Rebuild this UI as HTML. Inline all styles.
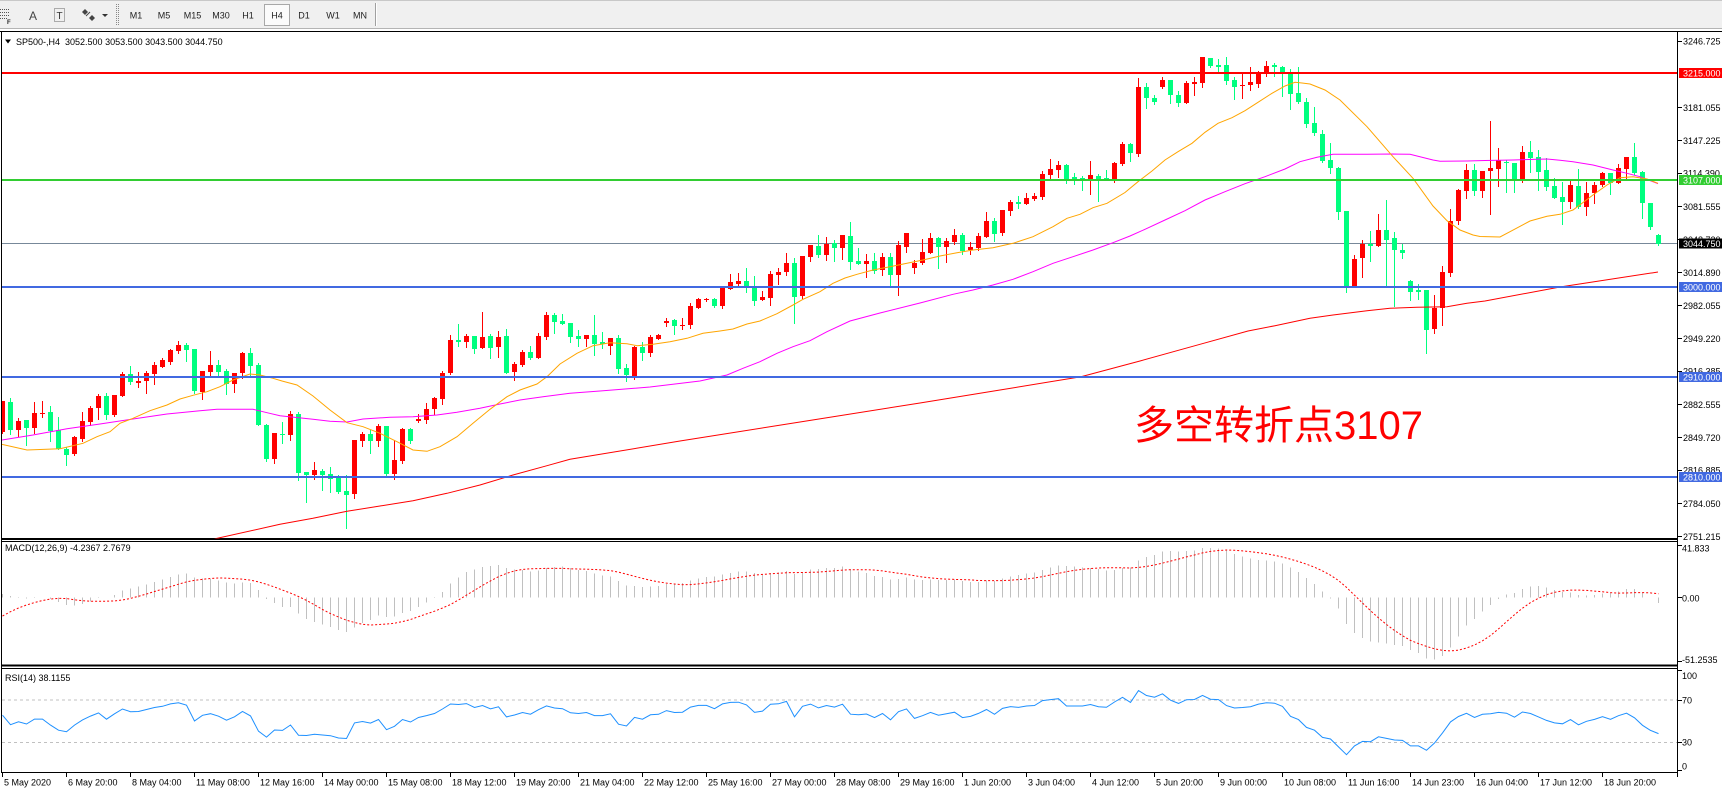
<!DOCTYPE html>
<html><head><meta charset="utf-8"><style>
html,body{margin:0;padding:0;background:#fff;}
svg{display:block;}
text{font-family:"Liberation Sans",sans-serif;font-size:9px;fill:#000;}
.tb text{font-size:9px;fill:#222;}
.w{fill:#fff;}
</style></head><body>
<svg width="1722" height="793" viewBox="0 0 1722 793" xmlns="http://www.w3.org/2000/svg">
<defs>
<clipPath id="cm"><rect x="2" y="32" width="1675.5" height="506.5"/></clipPath>
<clipPath id="cmd"><rect x="2" y="542" width="1675.5" height="122.5"/></clipPath>
<clipPath id="cr"><rect x="2" y="669" width="1675.5" height="103"/></clipPath>
</defs>
<rect x="0" y="0" width="1722" height="793" fill="#fff"/>
<!-- toolbar -->
<g class="tb">
<rect x="0" y="0" width="1722" height="28" fill="#f0f0f0"/>
<line x1="0" y1="0.5" x2="1722" y2="0.5" stroke="#c8c8c8"/>
<line x1="0" y1="28.5" x2="1722" y2="28.5" stroke="#b4b4b4"/>
<g stroke="#555" stroke-dasharray="1 1">
<line x1="0" y1="9.5" x2="10" y2="9.5"/><line x1="0" y1="12.5" x2="10" y2="12.5"/><line x1="0" y1="15.5" x2="10" y2="15.5"/><line x1="0" y1="18.5" x2="7" y2="18.5"/>
</g>
<text x="7" y="24" style="font-size:6px;font-weight:bold">F</text>
<text x="33" y="20" text-anchor="middle" style="font-size:12px;fill:#444">A</text>
<rect x="54.5" y="8.5" width="10" height="13" fill="none" stroke="#666" stroke-dasharray="1 1"/>
<text x="59.5" y="19" text-anchor="middle" style="font-size:10px;fill:#333">T</text>
<polygon points="85,9 88,12 85,15 82,12" fill="#444"/>
<polygon points="92,15 95,18 92,21 89,18" fill="#444"/>
<line x1="86" y1="16" x2="90" y2="12" stroke="#444"/>
<polygon points="102,14 108,14 105,17" fill="#333"/>
<line x1="116.5" y1="4" x2="116.5" y2="25" stroke="#888" stroke-dasharray="1 1"/>
<line x1="118.5" y1="4" x2="118.5" y2="25" stroke="#888" stroke-dasharray="1 1"/>
<rect x="264.5" y="4.5" width="25" height="21" fill="#fbfbfb" stroke="#a8a8a8"/>
<text x="136" y="18.7" text-anchor="middle">M1</text>
<text x="164" y="18.7" text-anchor="middle">M5</text>
<text x="192.5" y="18.7" text-anchor="middle">M15</text>
<text x="221" y="18.7" text-anchor="middle">M30</text>
<text x="248" y="18.7" text-anchor="middle">H1</text>
<text x="277" y="18.7" text-anchor="middle">H4</text>
<text x="304" y="18.7" text-anchor="middle">D1</text>
<text x="333" y="18.7" text-anchor="middle">W1</text>
<text x="360" y="18.7" text-anchor="middle">MN</text>
<line x1="375.5" y1="3" x2="375.5" y2="26" stroke="#a0a0a0"/>
<line x1="376.5" y1="3" x2="376.5" y2="26" stroke="#fff"/>
</g>

<!-- frame -->
<line x1="0" y1="31.5" x2="1722" y2="31.5" stroke="#000"/>
<line x1="1.5" y1="31.5" x2="1.5" y2="773" stroke="#000"/>
<line x1="1677.5" y1="31.5" x2="1677.5" y2="777" stroke="#000"/>
<line x1="1.5" y1="539" x2="1677.5" y2="539" stroke="#000" stroke-width="2"/>
<line x1="1.5" y1="541.5" x2="1677.5" y2="541.5" stroke="#000"/>
<line x1="1.5" y1="665.5" x2="1677.5" y2="665.5" stroke="#000" stroke-width="2"/>
<line x1="1.5" y1="668.5" x2="1677.5" y2="668.5" stroke="#000"/>
<line x1="1.5" y1="772.5" x2="1677.5" y2="772.5" stroke="#000"/>

<!-- main chart -->
<g clip-path="url(#cm)">
<line x1="2" y1="243.5" x2="1677" y2="243.5" stroke="#778899"/>
<g id="cd" shape-rendering="crispEdges"></g>
<polyline fill="none" stroke="#ff0000" stroke-width="1" points="214,539 280,524.3 313,518.3 347,511.3 380,506 413,500.7 447,493.3 480,485 513,475 547,465.7 570,459.3 680,441 800,422 920,403 1000,390 1081,376.7 1140,361 1200,344.3 1248,331 1275,325.7 1310,318.3 1333,315 1367,310.7 1390,308.3 1417,307.3 1447,306.7 1467,303.3 1485,301 1560,287 1658,272"/>
<polyline fill="none" stroke="#ff00ff" stroke-width="1" points="2,440 33,435 67,428.7 100,424 133,419 167,414 200,410.7 217,409.3 253,409.3 267,412.7 280,415.7 313,419.3 330,421.3 347,422 363,419 390,417.3 413,416.7 437,415 457,412.3 480,408.3 500,404 520,400 543,396.7 570,393.3 600,391 650,387 700,381 727,375 743,368.3 760,361.7 777,353.3 793,346.7 810,340.7 827,331.7 850,321 880,313 920,303 953,294.3 973,290 993,285 1013,279.3 1033,271.7 1053,263.3 1073,256.7 1093,250 1113,242.7 1130,236 1145,229.3 1165,220 1185,210.7 1205,200 1225,191.7 1245,183.7 1265,176.7 1285,169 1300,161.7 1317,157.3 1333,154.3 1367,154.3 1393,154 1410,154.3 1433,160 1440,161.3 1467,161 1485,160.5 1513,160 1547,159 1560,160.3 1573,161.7 1593,165 1613,170 1627,173.3 1640,176.7 1658,183.7"/>
<polyline fill="none" stroke="#ffa500" stroke-width="1" points="2,444.3 27,450 60,448.7 83,443.3 97,436.7 110,431.7 120,423.3 133,418.3 150,410.7 167,405 180,399 193,395.3 207,391.7 220,386.7 233,380 250,374 260,375 273,378.3 282,381 297,385 313,396 330,410 347,422.7 363,426.7 380,433.3 397,441.7 413,450 427,451.3 440,446.7 457,436.7 473,423.3 490,409.3 507,396.7 520,390 537,384 547,376.7 560,364 577,353.3 593,345.7 610,342.7 627,343.7 637,345.7 653,344.3 670,341.7 687,338.3 703,333.3 720,331 733,329 747,324 760,321 777,313.7 793,305 803,299.3 820,291.7 833,283.3 845,278 857,274.3 873,270 890,266.7 907,263.3 923,260 940,256 957,252.7 973,250 993,247.7 1013,243.3 1033,236.7 1053,226.7 1067,218.3 1080,214.3 1093,207.7 1107,203.3 1125,192.5 1138,181.7 1152,171 1165,160 1178,151.7 1192,143.3 1205,132.3 1218,123.3 1232,117.7 1245,110.7 1258,102.3 1272,93.3 1285,86 1295,82.3 1302,83 1310,84 1325,90 1340,100 1367,126.7 1393,156.7 1413,178.3 1433,206 1447,220.7 1460,230 1473,235 1480,236.5 1500,237 1510,231.7 1530,221 1547,216.3 1560,214.3 1573,210 1593,195 1607,185 1620,177.7 1633,176.7 1647,179 1658,183.3"/>
<g shape-rendering="crispEdges">
<line x1="2" y1="73" x2="1677" y2="73" stroke="#ff0000" stroke-width="2"/>
<line x1="2" y1="180" x2="1677" y2="180" stroke="#32cd32" stroke-width="2"/>
<line x1="2" y1="287" x2="1677" y2="287" stroke="#4169e1" stroke-width="2"/>
<line x1="2" y1="377" x2="1677" y2="377" stroke="#4169e1" stroke-width="2"/>
<line x1="2" y1="477" x2="1677" y2="477" stroke="#4169e1" stroke-width="2"/>
</g>
</g>
<polygon points="5,39.5 11,39.5 8,43.5" fill="#000"/>
<text x="16" y="44.8">SP500-,H4&#160;&#160;3052.500 3053.500 3043.500 3044.750</text>
<text x="1134" y="439" style="font-family:'Liberation Sans','Noto Sans CJK SC',sans-serif;font-size:40px;fill:#ff0000">多空转折点3107</text>

<!-- price axis -->
<path d="M1678 41.5h4M1678 107.5h4M1678 140.5h4M1678 173.5h4M1678 206.5h4M1678 239.5h4M1678 272.5h4M1678 305.5h4M1678 338.5h4M1678 371.5h4M1678 404.5h4M1678 437.5h4M1678 470.5h4M1678 503.5h4M1678 536.5h4" stroke="#000"/>
<text x="1683" y="44.3">3246.725</text>
<text x="1683" y="110.8">3181.055</text>
<text x="1683" y="143.8">3147.225</text>
<text x="1683" y="176.3">3114.390</text>
<text x="1683" y="209.8">3081.555</text>
<text x="1683" y="242.8">3048.720</text>
<text x="1683" y="275.8">3014.890</text>
<text x="1683" y="308.8">2982.055</text>
<text x="1683" y="341.8">2949.220</text>
<text x="1683" y="374.3">2916.385</text>
<text x="1683" y="407.8">2882.555</text>
<text x="1683" y="440.8">2849.720</text>
<text x="1683" y="473.3">2816.885</text>
<text x="1683" y="506.8">2784.050</text>
<text x="1683" y="539.8">2751.215</text>
<g shape-rendering="crispEdges">
<rect x="1679" y="68" width="43" height="10" fill="#ff0000"/>
<rect x="1679" y="175" width="43" height="10" fill="#32cd32"/>
<rect x="1679" y="238.5" width="43" height="10" fill="#000"/>
<rect x="1679" y="282" width="43" height="10" fill="#4169e1"/>
<rect x="1679" y="372" width="43" height="10" fill="#4169e1"/>
<rect x="1679" y="472" width="43" height="10" fill="#4169e1"/>
</g>
<text class="w" x="1683" y="76.3">3215.000</text>
<text class="w" x="1683" y="183.3">3107.000</text>
<text class="w" x="1683" y="246.8">3044.750</text>
<text class="w" x="1683" y="290.3">3000.000</text>
<text class="w" x="1683" y="380.3">2910.000</text>
<text class="w" x="1683" y="480.3">2810.000</text>

<!-- MACD -->
<g clip-path="url(#cmd)">
<path id="mh" d="" stroke="#c0c0c0" stroke-width="1" fill="none" shape-rendering="crispEdges"/>
<polyline id="ms" points="" fill="none" stroke="#ff0000" stroke-width="1" stroke-dasharray="2 2"/>
</g>
<text x="5" y="550.8">MACD(12,26,9) -4.2367 2.7679</text>
<path d="M1678 545.5h4M1678 597.5h4M1678 661.5h4" stroke="#000"/>
<text x="1682" y="551.3">41.833</text>
<text x="1682" y="601.3">0.00</text>
<text x="1682" y="662.8">-51.2535</text>

<!-- RSI -->
<g clip-path="url(#cr)">
<line x1="2" y1="700" x2="1677" y2="700" stroke="#c0c0c0" stroke-dasharray="3 3"/>
<line x1="2" y1="742.5" x2="1677" y2="742.5" stroke="#c0c0c0" stroke-dasharray="3 3"/>
<polyline id="rs" points="" fill="none" stroke="#1e90ff" stroke-width="1"/>
</g>
<text x="5" y="681">RSI(14) 38.1155</text>
<path d="M1678 670.5h4M1678 700.5h4M1678 742.5h4M1678 770.5h4" stroke="#000"/>
<text x="1682" y="679">100</text>
<text x="1682" y="703.3">70</text>
<text x="1682" y="745.6">30</text>
<text x="1682" y="769.3">0</text>

<!-- time axis -->
<path d="M2.5 773v4M66.5 773v4M130.5 773v4M194.5 773v4M258.5 773v4M322.5 773v4M386.5 773v4M450.5 773v4M514.5 773v4M578.5 773v4M642.5 773v4M706.5 773v4M770.5 773v4M834.5 773v4M898.5 773v4M962.5 773v4M1026.5 773v4M1090.5 773v4M1154.5 773v4M1218.5 773v4M1282.5 773v4M1346.5 773v4M1410.5 773v4M1474.5 773v4M1538.5 773v4M1602.5 773v4" stroke="#000"/>
<text x="4" y="785.5">5 May 2020</text>
<text x="68" y="785.5">6 May 20:00</text>
<text x="132" y="785.5">8 May 04:00</text>
<text x="196" y="785.5">11 May 08:00</text>
<text x="260" y="785.5">12 May 16:00</text>
<text x="324" y="785.5">14 May 00:00</text>
<text x="388" y="785.5">15 May 08:00</text>
<text x="452" y="785.5">18 May 12:00</text>
<text x="516" y="785.5">19 May 20:00</text>
<text x="580" y="785.5">21 May 04:00</text>
<text x="644" y="785.5">22 May 12:00</text>
<text x="708" y="785.5">25 May 16:00</text>
<text x="772" y="785.5">27 May 00:00</text>
<text x="836" y="785.5">28 May 08:00</text>
<text x="900" y="785.5">29 May 16:00</text>
<text x="964" y="785.5">1 Jun 20:00</text>
<text x="1028" y="785.5">3 Jun 04:00</text>
<text x="1092" y="785.5">4 Jun 12:00</text>
<text x="1156" y="785.5">5 Jun 20:00</text>
<text x="1220" y="785.5">9 Jun 00:00</text>
<text x="1284" y="785.5">10 Jun 08:00</text>
<text x="1348" y="785.5">11 Jun 16:00</text>
<text x="1412" y="785.5">14 Jun 23:00</text>
<text x="1476" y="785.5">16 Jun 04:00</text>
<text x="1540" y="785.5">17 Jun 12:00</text>
<text x="1604" y="785.5">18 Jun 20:00</text>
</svg>
<script>
(function(){
var D=[[432,401,433,401],[402,398,434,430],[430,418,436,421],[420,420,445,428],[428,402,433,413],[414,401,417,413],[412,406,441,431],[430,417,449,449],[449,447,465,455],[454,436,455,437],
[439,412,441,421],[422,406,425,408],[408,394,419,396],[396,393,419,415],[415,395,416,395],[396,372,396,374],[374,366,384,382],[383,372,387,381],[381,371,393,373],[374,362,384,365],
[367,358,367,360],[362,349,364,350],[351,341,353,345],[345,343,361,350],[349,349,393,391],[392,371,399,371],[372,351,375,365],[365,360,375,372],[371,369,394,384],[384,373,392,373],
[373,352,378,353],[353,348,375,366],[365,363,425,425],[425,424,461,459],[459,433,463,433],[434,422,443,435],[435,411,440,414],[414,412,480,473],[472,472,502,475],[475,462,479,470],
[471,469,490,475],[474,467,492,479],[476,475,493,492],[491,475,528,495],[494,440,498,440],[441,432,446,434],[434,430,453,441],[441,424,446,426],[426,426,475,474],[474,440,479,460],
[461,428,463,429],[429,428,443,441],[421,414,422,419],[420,403,423,409],[409,397,414,398],[399,371,404,373],[373,335,374,340],[340,324,346,342],[342,334,347,336],[336,336,353,349],
[348,312,348,337],[336,334,358,348],[347,331,357,337],[336,329,373,373],[372,362,380,364],[365,350,366,352],[352,346,359,358],[358,333,358,336],[337,312,339,315],[315,313,333,322],
[321,314,324,324],[323,323,342,337],[336,330,346,339],[339,335,346,335],[335,315,355,344],[342,332,348,344],[346,338,354,338],[338,335,373,369],[368,364,381,375],[376,346,379,347],
[347,342,360,353],[353,335,356,337],[339,334,339,335],[323,318,326,321],[320,319,334,326],[326,318,329,325],[325,303,328,306],[308,298,308,299],[300,298,301,299],[299,298,307,306],
[306,288,308,288],[289,274,289,282],[284,273,285,281],[281,268,292,286],[288,276,305,301],[300,291,300,297],[298,271,305,274],[275,268,284,272],[272,253,275,263],[263,258,323,297],
[296,256,298,256],[257,245,261,245],[246,235,257,255],[255,237,260,244],[243,240,261,248],[248,235,259,235],[236,222,269,262],[261,248,264,264],[264,254,277,261],[261,253,273,271],
[270,253,275,257],[257,253,286,275],[275,241,295,245],[247,233,252,233],[268,260,273,263],[263,239,264,252],[253,233,253,238],[238,237,268,247],[247,238,262,241],[242,229,244,235],
[235,233,254,251],[250,242,254,247],[248,233,250,236],[237,212,237,221],[221,218,241,234],[233,210,235,210],[211,200,215,202],[202,196,208,204],[204,193,204,198],[199,193,200,196],
[197,171,199,174],[175,159,179,169],[170,161,177,165],[165,164,183,180],[177,173,184,180],[178,176,190,180],[180,161,194,175],[176,174,201,179],[178,170,180,180],[180,162,182,163],
[164,142,165,144],[144,143,161,153],[154,78,156,87],[87,83,108,98],[98,95,104,102],[87,77,88,80],[80,80,103,95],[95,91,106,103],[103,81,103,83],[84,77,95,82],
[83,57,87,57],[58,58,67,66],[65,59,72,67],[65,57,84,81],[80,77,99,87],[86,74,98,85],[85,67,90,82],[84,71,87,72],[73,61,76,66],[65,63,76,67],
[67,66,96,73],[74,69,109,94],[93,67,103,102],[102,98,127,124],[123,107,135,133],[134,130,162,161],[160,143,173,168],[168,167,219,212],[211,211,292,286],[286,255,286,259],
[258,240,277,244],[244,231,261,246],[246,214,246,230],[230,200,286,240],[238,232,306,250],[250,244,258,253],[281,280,300,292],[290,284,299,292],[290,290,353,330],[329,295,333,308],
[308,266,325,272],[273,209,276,221],[221,189,224,190],[191,164,198,170],[170,164,195,191],[191,171,197,171],[171,121,214,168],[169,148,186,160],[162,160,192,163],[163,163,192,180],
[180,146,182,152],[152,141,172,158],[157,150,190,172],[170,158,190,187],[186,178,198,198],[197,182,224,202],[202,181,208,185],[186,169,208,207],[207,182,215,193],[193,182,203,185],
[185,172,186,173],[173,173,194,183],[183,164,183,168],[169,157,178,157],[157,143,174,173],[172,171,218,203],[203,203,229,227],[235,234,245,244]];
var s='',i;
for(i=0;i<D.length;i++){var d=D[i],o=d[0],h=d[1],l=d[2],c=d[3],x=2.5+8*i,up=c<o,col=up?'#ff0000':'#00ff7f';
var t=Math.min(o,c),b=Math.max(o,c);if(b-t<1)b=t+1;
s+='<line x1="'+x+'" y1="'+h+'" x2="'+x+'" y2="'+(l+1)+'" stroke="'+col+'"/><rect x="'+(x-2.5)+'" y="'+t+'" width="5" height="'+(b-t)+'" fill="'+col+'"/>';}
document.getElementById('cd').innerHTML=s;
var P=D.map(function(d){return 3287.7-d[3];});
var e12=P[0]-12,e26=P[0]-14,hs=[-28,-25,-21,-17,-14,-11,-8,-5],M=[],S=[];
for(i=0;i<P.length;i++){e12+=(P[i]-e12)*2/13;e26+=(P[i]-e26)*2/27;var m=e12-e26;hs.push(m);var sm=0;for(var k=hs.length-9;k<hs.length;k++)sm+=hs[k];S.push(sm/9);M.push(m);}
var z=597.5,sc=1.32,hh='',sp='';
for(i=0;i<P.length;i++){var xx=2.5+8*i;hh+='M'+xx+' '+z+'V'+(z-sc*M[i]).toFixed(1);sp+=xx+','+(z-sc*S[i]).toFixed(1)+' ';}
document.getElementById('mh').setAttribute('d',hh);
document.getElementById('ms').setAttribute('points',sp);
var ag=4.5,al=5.5,prev=3287.7-D[0][0],rp='';
for(i=0;i<P.length;i++){var ch=P[i]-prev;prev=P[i];ag=(ag*13+Math.max(ch,0))/14;al=(al*13+Math.max(-ch,0))/14;var r=100-100/(1+ag/al);rp+=(2.5+8*i)+','+(774-1.058*r).toFixed(1)+' ';}
document.getElementById('rs').setAttribute('points',rp);
})();
</script>
</body></html>
